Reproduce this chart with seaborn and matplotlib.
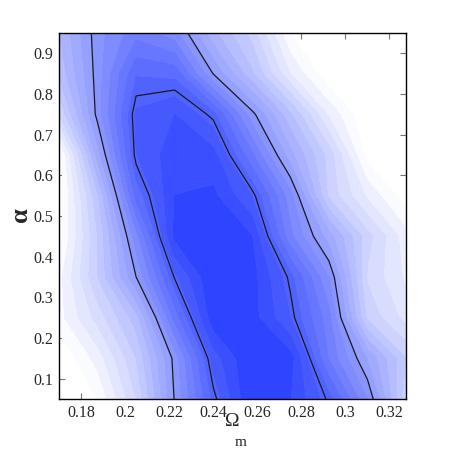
import numpy as np
import seaborn as sns
import matplotlib
matplotlib.use("Agg")
import matplotlib.pyplot as plt
from matplotlib.colors import LinearSegmentedColormap

# grid nodes
omega_m = [0.17, 0.1875, 0.205, 0.2225, 0.24, 0.2575, 0.275, 0.2925, 0.31, 0.3275]
alpha = [0.05, 0.15, 0.25, 0.35, 0.45, 0.55, 0.65, 0.75, 0.85, 0.95]

# relative likelihood, one row per alpha value (bottom to top)
like = [
    [0.00, 0.05, 0.25, 0.555, 0.813, 1.00, 0.95, 0.82, 0.60, 0.267],
    [0.00, 0.12, 0.30, 0.569, 0.872, 1.00, 0.97, 0.695, 0.496, 0.30],
    [0.08, 0.22, 0.376, 0.717, 0.98, 0.97, 0.85, 0.668, 0.287, 0.18],
    [0.08, 0.30, 0.55, 0.835, 1.00, 0.97, 0.818, 0.60, 0.243, 0.14],
    [0.03, 0.30, 0.629, 0.959, 1.00, 0.95, 0.664, 0.474, 0.27, 0.12],
    [0.02, 0.34, 0.768, 0.95, 0.96, 0.851, 0.62, 0.287, 0.14, 0.02],
    [0.02, 0.475, 0.848, 0.93, 0.92, 0.711, 0.467, 0.28, 0.03, 0.00],
    [0.25, 0.569, 0.859, 0.90, 0.816, 0.57, 0.36, 0.14, 0.00, 0.00],
    [0.36, 0.574, 0.795, 0.783, 0.548, 0.36, 0.15, 0.01, 0.00, 0.00],
    [0.40, 0.579, 0.68, 0.62, 0.414, 0.28, 0.05, 0.00, 0.00, 0.00],
]
conf_levels = [0.55, 0.83]

xticks = [0.18, 0.2, 0.22, 0.24, 0.26, 0.28, 0.3, 0.32]
yticks = [0.1, 0.2, 0.3, 0.4, 0.5, 0.6, 0.7, 0.8, 0.9]

sns.set_theme(style="ticks")
plt.rcParams['font.family'] = ['Liberation Serif', 'DejaVu Serif']

fig = plt.figure(figsize=(4.5, 4.5), dpi=100)
ax = fig.add_axes([59/450, 51/450, 347/450, 366/450])

blues = LinearSegmentedColormap.from_list("wb", ["#ffffff", "#2a40ff"])
fill_levels = np.linspace(0.05, 1.0, 20)
ax.contourf(omega_m, alpha, like, levels=fill_levels, cmap=blues)
ax.contour(omega_m, alpha, like, levels=conf_levels, colors='k', linewidths=0.9)

ax.set_xlim(0.17, 0.3275)
ax.set_ylim(0.05, 0.95)
ax.set_xticks(xticks)
ax.set_xticklabels([f"{t:g}" for t in xticks])
ax.set_yticks(yticks)
ax.set_yticklabels([f"{t:g}" for t in yticks])
ax.tick_params(direction='in', length=4, width=0.8, color='0.45',
               top=True, right=True, labelsize=11.5, pad=4)
for sp in ax.spines.values():
    sp.set_color('black')
    sp.set_linewidth(1.0)

ax.set_ylabel("α", fontsize=19, fontweight='bold')
ax.yaxis.set_label_coords(-0.078, 0.503)
fig.text(232/450, 1 - 422/450, "Ω", fontsize=14, ha='center', va='center')
fig.text(241/450, 1 - 443/450, "m", fontsize=11, ha='center', va='center')

fig.savefig("out.png", dpi=100)
